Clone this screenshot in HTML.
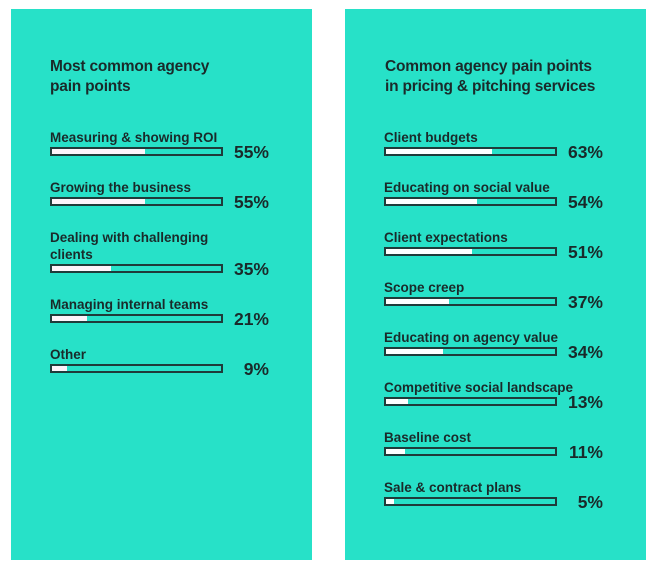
<!DOCTYPE html>
<html><head><meta charset="utf-8"><style>
body{margin:0;width:656px;height:573px;background:#fff;position:relative;overflow:hidden;font-family:"Liberation Sans",sans-serif;color:#1a2a2a}
.panel{position:absolute;top:9px;width:301px;height:551px;background:#27e1c8}
.title{position:absolute;font-weight:bold;font-size:15.5px;line-height:20px;letter-spacing:-0.2px}
.lab{position:absolute;font-weight:bold;font-size:13.5px;line-height:17px;white-space:nowrap}
.bar{position:absolute;height:5px;border:2px solid #1f3b3a;box-sizing:content-box}
.fill{position:absolute;left:0;top:0;height:5px;background:#fdf4fb}
.pct{position:absolute;font-weight:bold;font-size:17.5px;line-height:20px;text-align:right;width:60px}
</style></head><body>
<div class="panel" style="left:11px"></div>
<div class="panel" style="left:345px"></div>
<div class="title" style="left:50px;top:57px">Most common agency<br>pain points</div>
<div class="title" style="left:385px;top:57px">Common agency pain points<br>in pricing &amp; pitching services</div>
<script>
const leftCats=["Measuring & showing ROI","Growing the business","Dealing with challenging clients","Managing internal teams","Other"];
const leftVals=[55,55,35,21,9];
const rightCats=["Client budgets","Educating on social value","Client expectations","Scope creep","Educating on agency value","Competitive social landscape","Baseline cost","Sale & contract plans"];
const rightVals=[63,54,51,37,34,13,11,5];
function draw(cats,vals,x0,pctRight,fillColor){
  let top=147;
  const W=169;
  cats.forEach((c,i)=>{
    const twoLine=c.length>28&&x0<100;
    if(twoLine&&i>0) top+=17;
    const lab=document.createElement('div');
    lab.className='lab';
    
    
    lab.style.left=x0+'px';
    if(twoLine){lab.innerHTML='Dealing with challenging<br>clients';lab.style.top=(top-35)+'px';}
    else{lab.textContent=c;lab.style.top=(top-18)+'px';}
    document.body.appendChild(lab);
    const bar=document.createElement('div');
    bar.className='bar';
    
    
    bar.style.left=x0+'px';bar.style.top=top+'px';bar.style.width=W+'px';
    const f=document.createElement('div');
    f.className='fill';
    
    
    f.style.width=(W*vals[i]/100)+'px';
    f.style.background=fillColor;
    bar.appendChild(f);
    document.body.appendChild(bar);
    const p=document.createElement('div');
    p.className='pct';
    
    
    p.textContent=vals[i]+'%';
    p.style.left=(pctRight-60)+'px';p.style.top=(top-5)+'px';
    document.body.appendChild(p);
    top+=50;
  });
}
draw(leftCats,leftVals,50,269,'#fdf4fb');
draw(rightCats,rightVals,384,603,'#ffffff');
</script>
</body></html>
